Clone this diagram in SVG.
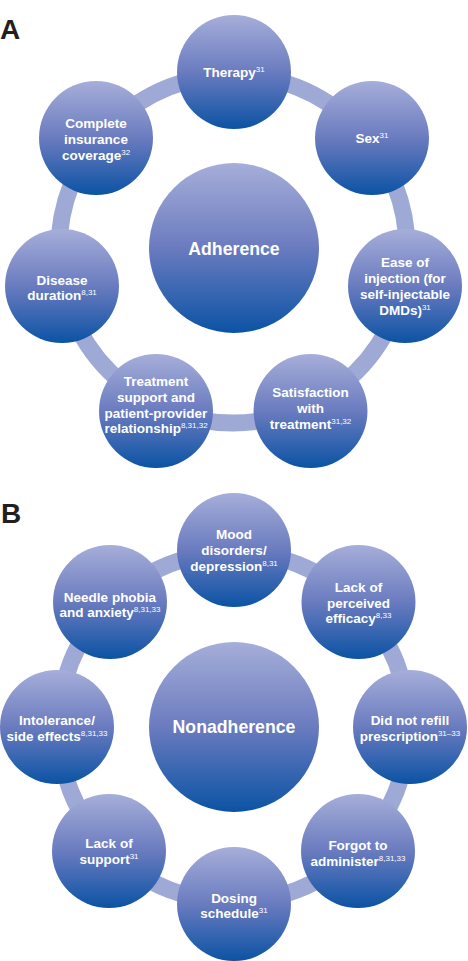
<svg xmlns="http://www.w3.org/2000/svg" width="468" height="961" viewBox="0 0 468 961">
<style>
.t{font-family:"Liberation Sans",Arial,sans-serif;font-weight:700;font-size:13.5px;fill:#fff;text-anchor:middle}
.big{font-size:17.7px}
.s{font-size:8px;font-weight:400}
.lbl{font-family:"Liberation Sans",Arial,sans-serif;font-weight:700;font-size:28px;fill:#231f20}
.ring{fill:none;stroke:#9ea9d5;stroke-width:17}
.n{fill:url(#g)}
</style>
<defs>
<linearGradient id="g" x1="0" y1="0" x2="0" y2="1">
<stop offset="0" stop-color="#a6aed9"/>
<stop offset="0.5" stop-color="#6a7bbf"/>
<stop offset="1" stop-color="#0b53a4"/>
</linearGradient>
</defs>
<rect width="468" height="961" fill="#fff"/>
<text class="lbl" x="0" y="39">A</text>
<text class="lbl" x="1" y="523">B</text>
<g id="connectors">
<circle class="ring" cx="233" cy="249" r="174"/>
<circle class="ring" cx="233.5" cy="727" r="175"/>
</g>
<g id="adherence"><circle class="n" cx="234" cy="248" r="85"/><text class="t big" x="234" y="255">Adherence</text></g>
<g id="therapy"><circle class="n" cx="234" cy="72" r="57"/><text class="t" x="234" y="77">Therapy<tspan class="s" dy="-5">31</tspan></text></g>
<g id="insurance"><circle class="n" cx="96" cy="138" r="57"/><text class="t" x="96" y="128">Complete</text><text class="t" x="96" y="144">insurance</text><text class="t" x="96" y="160">coverage<tspan class="s" dy="-5">32</tspan></text></g>
<g id="sex"><circle class="n" cx="372" cy="138" r="57"/><text class="t" x="372" y="143">Sex<tspan class="s" dy="-5">31</tspan></text></g>
<g id="disease"><circle class="n" cx="62" cy="286" r="57"/><text class="t" x="62" y="285">Disease</text><text class="t" x="62" y="300">duration<tspan class="s" dy="-5">8,31</tspan></text></g>
<g id="ease"><circle class="n" cx="405" cy="286" r="57"/><text class="t" x="405" y="267">Ease of</text><text class="t" x="405" y="283">injection (for</text><text class="t" x="405" y="299">self-injectable</text><text class="t" x="405" y="315">DMDs)<tspan class="s" dy="-5">31</tspan></text></g>
<g id="treatment"><circle class="n" cx="156" cy="411" r="57"/><text class="t" x="156" y="386">Treatment</text><text class="t" x="156" y="402">support and</text><text class="t" x="156" y="418">patient-provider</text><text class="t" x="156" y="433">relationship<tspan class="s" dy="-5">8,31,32</tspan></text></g>
<g id="satisfaction"><circle class="n" cx="310.5" cy="411" r="57"/><text class="t" x="310.5" y="397">Satisfaction</text><text class="t" x="310.5" y="413">with</text><text class="t" x="310.5" y="429">treatment<tspan class="s" dy="-5">31,32</tspan></text></g>
<g id="nonadherence"><circle class="n" cx="234" cy="727" r="85"/><text class="t big" x="234" y="733">Nonadherence</text></g>
<g id="mood"><circle class="n" cx="234" cy="550" r="57"/><text class="t" x="234" y="539">Mood</text><text class="t" x="234" y="555">disorders/</text><text class="t" x="234" y="571">depression<tspan class="s" dy="-5">8,31</tspan></text></g>
<g id="needle"><circle class="n" cx="110" cy="602" r="57"/><text class="t" x="110" y="602">Needle phobia</text><text class="t" x="110" y="617">and anxiety<tspan class="s" dy="-5">8,31,33</tspan></text></g>
<g id="efficacy"><circle class="n" cx="358.5" cy="602" r="57"/><text class="t" x="358.5" y="592">Lack of</text><text class="t" x="358.5" y="608">perceived</text><text class="t" x="358.5" y="623">efficacy<tspan class="s" dy="-5">8,33</tspan></text></g>
<g id="intolerance"><circle class="n" cx="57" cy="727" r="57"/><text class="t" x="57" y="725">Intolerance/</text><text class="t" x="57" y="741">side effects<tspan class="s" dy="-5">8,31,33</tspan></text></g>
<g id="refill"><circle class="n" cx="410" cy="727" r="57"/><text class="t" x="410" y="725">Did not refill</text><text class="t" x="410" y="741">prescription<tspan class="s" dy="-5">31–33</tspan></text></g>
<g id="support"><circle class="n" cx="109" cy="851" r="57"/><text class="t" x="109" y="848">Lack of</text><text class="t" x="109" y="864">support<tspan class="s" dy="-5">31</tspan></text></g>
<g id="forgot"><circle class="n" cx="358" cy="851" r="57"/><text class="t" x="358" y="850">Forgot to</text><text class="t" x="358" y="866">administer<tspan class="s" dy="-5">8,31,33</tspan></text></g>
<g id="dosing"><circle class="n" cx="234" cy="904" r="57"/><text class="t" x="234" y="903">Dosing</text><text class="t" x="234" y="918">schedule<tspan class="s" dy="-5">31</tspan></text></g>
</svg>
